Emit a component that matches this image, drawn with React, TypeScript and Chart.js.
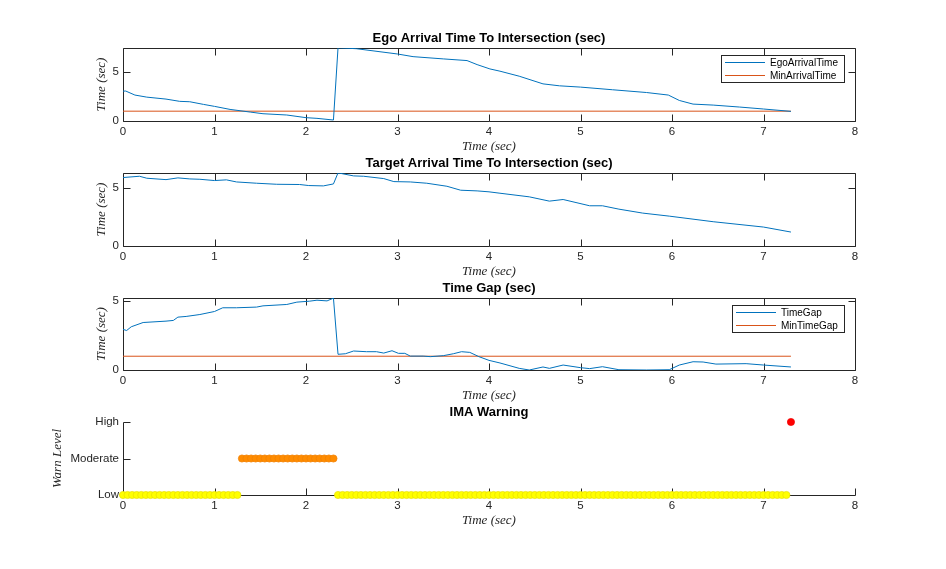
import React, { useEffect, useRef } from 'react';
import { Chart, registerables } from 'chart.js';

Chart.register(...registerables);

// ---------- data ----------
const xTickValues = [0, 1, 2, 3, 4, 5, 6, 7, 8];
const xTickLabels = ['0', '1', '2', '3', '4', '5', '6', '7', '8'];

const egoTime = [0, 0.03, 0.13, 0.26, 0.47, 0.62, 0.73, 0.88, 1.0, 1.17, 1.39, 1.53, 1.79, 2.0, 2.12, 2.3, 2.35, 2.55, 3.0, 3.17, 3.5, 3.76, 3.87, 4.01, 4.12, 4.33, 4.59, 4.77, 5.0, 5.35, 5.72, 5.96, 6.08, 6.23, 6.45, 6.74, 7.0, 7.3];
const egoArrival = [3.04, 3.05, 2.64, 2.43, 2.23, 2.0, 1.96, 1.69, 1.49, 1.18, 0.91, 0.74, 0.61, 0.34, 0.27, 0.1, 7.45, 7.36, 6.82, 6.55, 6.32, 6.15, 5.74, 5.3, 5.07, 4.56, 3.78, 3.58, 3.45, 3.18, 2.9, 2.64, 2.09, 1.72, 1.62, 1.42, 1.22, 0.98];
const minArrivalTime = [0, 7.3];
const minArrival = [1, 1];

const targetTime = [0, 0.18, 0.26, 0.47, 0.6, 0.73, 0.84, 1.0, 1.13, 1.24, 1.46, 1.68, 1.93, 2.03, 2.19, 2.3, 2.35, 2.52, 2.63, 2.85, 2.96, 3.14, 3.32, 3.54, 3.69, 3.87, 4.0, 4.12, 4.44, 4.66, 4.81, 5.1, 5.24, 5.42, 5.68, 5.97, 6.45, 7.0, 7.3];
const targetArrival = [5.89, 6.0, 5.83, 5.71, 5.86, 5.77, 5.74, 5.63, 5.69, 5.51, 5.4, 5.31, 5.29, 5.2, 5.17, 5.34, 6.29, 6.03, 6.0, 5.8, 5.54, 5.51, 5.4, 5.14, 4.8, 4.74, 4.66, 4.54, 4.23, 3.86, 4.0, 3.46, 3.46, 3.17, 2.83, 2.57, 2.09, 1.63, 1.2];

const gapTime = [0, 0.04, 0.09, 0.22, 0.47, 0.55, 0.6, 0.69, 0.84, 1.0, 1.09, 1.24, 1.46, 1.53, 1.79, 1.9, 2.04, 2.12, 2.23, 2.3, 2.35, 2.43, 2.52, 2.66, 2.77, 2.85, 2.94, 3.01, 3.08, 3.14, 3.28, 3.36, 3.5, 3.61, 3.7, 3.79, 3.89, 4.0, 4.12, 4.33, 4.44, 4.59, 4.66, 4.81, 5.0, 5.1, 5.24, 5.42, 5.72, 5.97, 6.08, 6.23, 6.34, 6.48, 6.81, 7.0, 7.3];
const timeGap = [2.95, 2.87, 3.14, 3.45, 3.55, 3.6, 3.84, 3.89, 4.03, 4.25, 4.52, 4.52, 4.57, 4.66, 4.76, 4.93, 5.0, 5.07, 5.02, 5.22, 1.14, 1.18, 1.38, 1.33, 1.33, 1.23, 1.4, 1.21, 1.21, 1.01, 1.01, 0.97, 1.04, 1.18, 1.33, 1.28, 0.97, 0.7, 0.51, 0.12, 0, 0.22, 0.12, 0.36, 0.17, 0.1, 0.24, 0.02, 0, 0.02, 0.36, 0.6, 0.58, 0.43, 0.46, 0.36, 0.22];
const minGapTime = [0, 7.3];
const minTimeGap = [1, 1];

// warning level, sample-and-hold runs (level index, first sample, last sample)
const warnSampleTime = 0.05;
const warnRunLevels = [0, 1, 0, 2];
const warnRunStart = [0, 1.3, 2.35, 7.3];
const warnRunEnd = [1.25, 2.3, 7.25, 7.3];
const warnLevelTicks = [0, 1, 2];
const warnLevelLabels = ['Low', 'Moderate', 'High'];
const warnLevelColors = ['#FFFF00', '#FF8C00', '#FF0000'];
const warnLevelEdges = ['#E8E000', '#F07F00', '#F00000'];

const y1Ticks = [0, 5];
const y1Max = 7.43;
const y2Ticks = [0, 5];
const y2Max = 6.28;
const y3Ticks = [0, 5];
const y3Max = 5.23;

// ---------- styling ----------
const BLUE = '#0072BD';
const ORANGE = '#D95319';
const AXIS = '#262626';
const SANS = "'Liberation Sans', Arial, Helvetica, sans-serif";
const SERIF = "'Liberation Serif', 'Times New Roman', serif";
const TICK_LEN = 7;

const zip = (xs: number[], ys: number[]) => xs.map((x, i) => ({ x, y: ys[i] }));

function warnPoints() {
  const pts: { x: number; y: number }[] = [];
  const colors: string[] = [];
  const edges: string[] = [];
  warnRunLevels.forEach((lvl, r) => {
    const n = Math.round((warnRunEnd[r] - warnRunStart[r]) / warnSampleTime);
    for (let i = 0; i <= n; i++) {
      pts.push({ x: +(warnRunStart[r] + i * warnSampleTime).toFixed(2), y: lvl });
      colors.push(warnLevelColors[lvl]);
      edges.push(warnLevelEdges[lvl]);
    }
  });
  return { pts, colors, edges };
}

const matlabAxes = {
  id: 'matlabAxes',
  beforeDatasetsDraw(chart: any, _args: any, opts: any) {
    const { ctx, chartArea: a, scales } = chart;
    const L = Math.round(a.left) + 0.5;
    const R = Math.round(a.right) + 0.5;
    const T = Math.round(a.top) + 0.5;
    const B = Math.round(a.bottom) + 0.5;
    ctx.save();
    ctx.strokeStyle = AXIS;
    ctx.lineWidth = 1;
    ctx.beginPath();
    if (opts.box) {
      ctx.rect(L, T, R - L, B - T);
    } else {
      ctx.moveTo(L, T);
      ctx.lineTo(L, B);
      ctx.lineTo(R, B);
    }
    for (const t of scales.x.ticks) {
      const px = Math.round(scales.x.getPixelForValue(t.value)) + 0.5;
      ctx.moveTo(px, B);
      ctx.lineTo(px, B - TICK_LEN);
      if (opts.box) {
        ctx.moveTo(px, T);
        ctx.lineTo(px, T + TICK_LEN);
      }
    }
    for (const t of scales.y.ticks) {
      const py = Math.round(scales.y.getPixelForValue(t.value)) + 0.5;
      ctx.moveTo(L, py);
      ctx.lineTo(L + TICK_LEN, py);
      if (opts.box) {
        ctx.moveTo(R, py);
        ctx.lineTo(R - TICK_LEN, py);
      }
    }
    ctx.stroke();
    ctx.restore();
  },
  afterDraw(chart: any, _args: any, opts: any) {
    if (!opts.legend) return;
    const { ctx, chartArea: a } = chart;
    const ds = chart.data.datasets;
    ctx.save();
    ctx.font = `10px ${SANS}`;
    let maxW = 0;
    ds.forEach((d: any) => { maxW = Math.max(maxW, ctx.measureText(d.label).width); });
    const w = Math.round(49 + maxW + 6);
    const h = 27;
    const right = Math.round(a.right) - 11;
    const left = right - w;
    const top = Math.round(a.top) + 7;
    ctx.fillStyle = '#fff';
    ctx.fillRect(left, top, w, h);
    ctx.strokeStyle = AXIS;
    ctx.lineWidth = 1;
    ctx.strokeRect(left + 0.5, top + 0.5, w, h);
    ds.forEach((d: any, i: number) => {
      const cy = top + 7 + i * 13;
      ctx.strokeStyle = d.borderColor;
      ctx.beginPath();
      ctx.moveTo(left + 4, cy + 0.5);
      ctx.lineTo(left + 44, cy + 0.5);
      ctx.stroke();
      ctx.fillStyle = '#000';
      ctx.textBaseline = 'middle';
      ctx.textAlign = 'left';
      ctx.fillText(d.label, left + 49, cy + 1);
    });
    ctx.restore();
  },
};

type Spec = {
  canvasTop: number;
  areaH: number;
  title: string;
  yTitle: string;
  yTitleX: number;
  yMax: number;
  yTicks: number[];
  yLabels: string[];
  box: boolean;
  legend: boolean;
  datasets: any[];
};

function makeConfig(s: Spec): any {
  return {
    type: 'line',
    data: { datasets: s.datasets },
    options: {
      responsive: false,
      animation: false,
      devicePixelRatio: 1,
      layout: { padding: { left: 0, right: 91, top: 0, bottom: 0 } },
      plugins: {
        legend: { display: false },
        tooltip: { enabled: false },
        title: {
          display: true,
          text: s.title,
          fullSize: false,
          color: '#000',
          font: { size: 13, weight: 'bold', family: SANS, lineHeight: 1.2 },
          padding: { top: 7.7, bottom: 1.7 },
        },
        matlabAxes: { box: s.box, legend: s.legend },
      },
      scales: {
        x: {
          type: 'linear',
          min: 0,
          max: 8,
          grid: { display: false, drawTicks: false, tickLength: 0 },
          border: { display: false },
          ticks: {
            color: AXIS,
            font: { size: 11.5, family: SANS, lineHeight: 1.2 },
            padding: 4,
            autoSkip: false,
            maxRotation: 0,
            callback: (v: number) => xTickLabels[xTickValues.indexOf(v)] ?? String(v),
          },
          afterBuildTicks: (sc: any) => { sc.ticks = xTickValues.map((v) => ({ value: v })); },
          afterFit: (sc: any) => { sc.height = 35; },
          title: {
            display: true,
            text: 'Time (sec)',
            color: AXIS,
            font: { size: 13, family: SERIF, style: 'italic', lineHeight: 1.2 },
            padding: { top: 0, bottom: 1.7 },
          },
        },
        y: {
          type: 'linear',
          min: 0,
          max: s.yMax,
          grid: { display: false, drawTicks: false, tickLength: 0 },
          border: { display: false },
          ticks: {
            color: AXIS,
            font: { size: 11.5, family: SANS, lineHeight: 1.2 },
            padding: 4,
            autoSkip: false,
            callback: (v: number) => s.yLabels[s.yTicks.indexOf(v)] ?? String(v),
          },
          afterBuildTicks: (sc: any) => { sc.ticks = s.yTicks.map((v) => ({ value: v })); },
          afterFit: (sc: any) => { sc.width = 123; },
          title: {
            display: true,
            text: s.yTitle,
            color: AXIS,
            font: { size: 13, family: SERIF, style: 'italic', lineHeight: 1.2 },
            padding: { top: s.yTitleX - 7.8, bottom: 0 },
          },
        },
      },
    },
    plugins: [matlabAxes],
  };
}

const lineDs = (label: string, data: any[], color: string) => ({
  label,
  data,
  borderColor: color,
  backgroundColor: color,
  borderWidth: 1,
  pointRadius: 0,
  tension: 0,
  fill: false,
});

function buildSpecs(): Spec[] {
  const w = warnPoints();
  return [
    {
      canvasTop: 23, areaH: 73,
      title: 'Ego Arrival Time To Intersection (sec)', yTitle: 'Time (sec)', yTitleX: 102,
      yMax: y1Max, yTicks: y1Ticks, yLabels: y1Ticks.map(String), box: true, legend: true,
      datasets: [
        lineDs('EgoArrivalTime', zip(egoTime, egoArrival), BLUE),
        lineDs('MinArrivalTime', zip(minArrivalTime, minArrival), ORANGE),
      ],
    },
    {
      canvasTop: 148, areaH: 73,
      title: 'Target Arrival Time To Intersection (sec)', yTitle: 'Time (sec)', yTitleX: 102,
      yMax: y2Max, yTicks: y2Ticks, yLabels: y2Ticks.map(String), box: true, legend: false,
      datasets: [lineDs('TargetArrivalTime', zip(targetTime, targetArrival), BLUE)],
    },
    {
      canvasTop: 273, areaH: 72,
      title: 'Time Gap (sec)', yTitle: 'Time (sec)', yTitleX: 102,
      yMax: y3Max, yTicks: y3Ticks, yLabels: y3Ticks.map(String), box: true, legend: true,
      datasets: [
        lineDs('TimeGap', zip(gapTime, timeGap), BLUE),
        lineDs('MinTimeGap', zip(minGapTime, minTimeGap), ORANGE),
      ],
    },
    {
      canvasTop: 397, areaH: 73,
      title: 'IMA Warning', yTitle: 'Warn Level', yTitleX: 58,
      yMax: 2, yTicks: warnLevelTicks, yLabels: warnLevelLabels, box: false, legend: false,
      datasets: [
        {
          label: 'WarnLevel',
          data: w.pts,
          showLine: false,
          pointRadius: 3.6,
          pointBorderWidth: 0.7,
          pointBackgroundColor: w.colors,
          pointBorderColor: w.edges,
          borderColor: 'transparent',
          clip: false,
        },
      ],
    },
  ];
}

function Panel({ spec }: { spec: Spec }) {
  const ref = useRef<HTMLCanvasElement>(null);
  const h = spec.areaH + 60;
  useEffect(() => {
    if (!ref.current) return;
    const chart = new Chart(ref.current, makeConfig(spec));
    return () => chart.destroy();
  }, [spec]);
  return (
    <canvas
      ref={ref}
      width={946}
      height={h}
      style={{ position: 'absolute', left: 0, top: spec.canvasTop, width: 946, height: h }}
    />
  );
}

const specs = buildSpecs();

export default function App() {
  return (
    <div style={{ position: 'absolute', left: 0, top: 0, width: 946, height: 569, background: '#fff', overflow: 'hidden' }}>
      {specs.map((s, i) => (
        <Panel key={i} spec={s} />
      ))}
    </div>
  );
}
